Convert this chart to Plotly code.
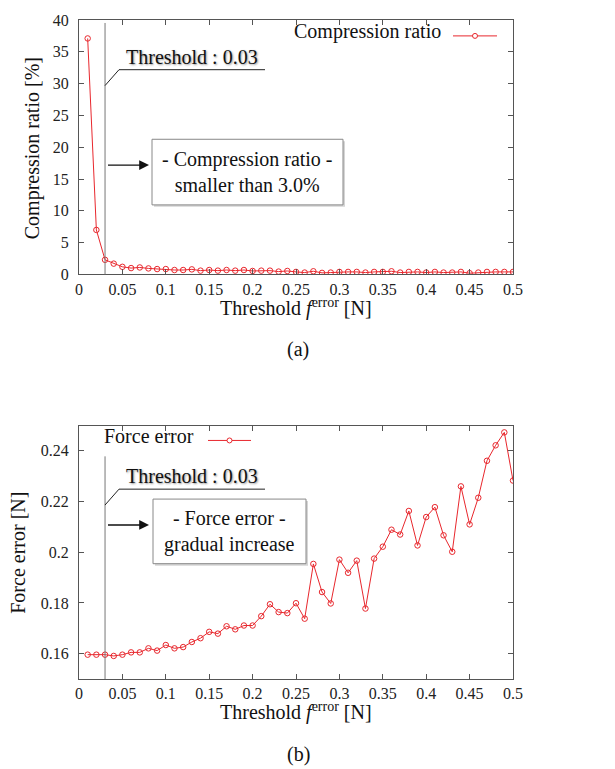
import plotly.graph_objects as go
from plotly.subplots import make_subplots

threshold = [round(0.01 * i, 2) for i in range(1, 51)]
compression_ratio = [37.1, 7.0, 2.3, 1.7, 1.2, 1.0, 1.1, 0.95, 0.85, 0.85,
                     0.7, 0.7, 0.8, 0.6, 0.7, 0.6, 0.7, 0.6, 0.7, 0.55,
                     0.6, 0.6, 0.45, 0.55, 0.4, 0.3, 0.5, 0.25, 0.3, 0.4,
                     0.4, 0.4, 0.3, 0.4, 0.4, 0.5, 0.3, 0.4, 0.4, 0.3,
                     0.4, 0.3, 0.3, 0.4, 0.2, 0.3, 0.4, 0.4, 0.4, 0.4]
force_error = [0.1596, 0.1596, 0.1596, 0.1591, 0.1596, 0.1605, 0.1605, 0.1621, 0.1612, 0.1634,
               0.1621, 0.1626, 0.1646, 0.1661, 0.1686, 0.1679, 0.1708, 0.1696, 0.1711, 0.1711,
               0.1748, 0.1795, 0.1764, 0.1760, 0.1799, 0.1738, 0.1954, 0.1843, 0.1798, 0.1971,
               0.1919, 0.1967, 0.1778, 0.1975, 0.2022, 0.2089, 0.2070, 0.2163, 0.2027, 0.2139,
               0.2178, 0.2067, 0.2002, 0.2260, 0.2110, 0.2215, 0.2361, 0.2422, 0.2473, 0.2283]
THRESH = 0.03
x_ticks = [0, 0.05, 0.1, 0.15, 0.2, 0.25, 0.3, 0.35, 0.4, 0.45, 0.5]
x_ticklabels = ["0", "0.05", "0.1", "0.15", "0.2", "0.25", "0.3", "0.35", "0.4", "0.45", "0.5"]
y1_ticks = [0, 5, 10, 15, 20, 25, 30, 35, 40]
y2_ticks = [0.16, 0.18, 0.2, 0.22, 0.24]
y2_ticklabels = ["0.16", "0.18", "0.2", "0.22", "0.24"]

W, H = 615, 769
PL, PR, PT, PB = 79, 513, 16, 679   # plot-area edges in pixels
L, T, R, B = PL, PT, W - PR, H - PB
PW, PH = W - L - R, H - T - B

def px(x):
    return (x - L) / PW

def py(y):
    return (PB - y) / PH

FONT = "Liberation Serif, Times New Roman, serif"
RED = "#e8272d"
AX = "#555555"

fig = make_subplots(rows=2, cols=1, vertical_spacing=0.05)
fig.update_layout(
    yaxis=dict(domain=[py(272), 1.0]),
    yaxis2=dict(domain=[0.0, py(424)]),
)

mk = dict(symbol="circle-open", size=5.5, color=RED, line=dict(width=1, color=RED))
fig.add_trace(go.Scatter(x=threshold, y=compression_ratio, mode="lines+markers",
                         line=dict(color=RED, width=1), marker=mk, showlegend=False), row=1, col=1)
fig.add_trace(go.Scatter(x=threshold, y=force_error, mode="lines+markers",
                         line=dict(color=RED, width=1), marker=mk, showlegend=False), row=2, col=1)

axcommon = dict(showline=True, linecolor=AX, linewidth=1, mirror="ticks", ticks="inside",
                ticklen=5, tickcolor=AX, showgrid=False, zeroline=False,
                ticklabeloverflow="allow",
                tickfont=dict(family=FONT, size=16, color="#222"))
fig.update_xaxes(range=[0, 0.5], tickvals=x_ticks, ticktext=x_ticklabels, **axcommon)
fig.update_yaxes(range=[0, 40], tickvals=y1_ticks, row=1, col=1, ticklabelstandoff=6, **axcommon)
fig.update_yaxes(range=[0.15, 0.25], tickvals=y2_ticks, ticktext=y2_ticklabels, row=2, col=1,
                 ticklabelstandoff=6, **axcommon)

shapes = []
anns = []
tf = dict(family=FONT, size=20, color="#111")

def note(x, y, text, xanchor="center", font=tf, **kw):
    anns.append(dict(xref="paper", yref="paper", x=px(x), y=py(y), text=text, showarrow=False,
                     xanchor=xanchor, yanchor="middle", font=font, **kw))

# threshold lines
shapes.append(dict(type="line", xref="x", yref="paper", x0=THRESH, x1=THRESH,
                   y0=py(272), y1=py(19), line=dict(color="#777", width=1)))
shapes.append(dict(type="line", xref="x2", yref="paper", x0=THRESH, x1=THRESH,
                   y0=py(679), y1=py(455), line=dict(color="#777", width=1)))

def callout(ytext, yline, ydiag, box, ybox_arrow, lines):
    shapes.append(dict(type="path", xref="paper", yref="paper",
                       path=f"M {px(105)},{py(ydiag)} L {px(119)},{py(yline)} L {px(265)},{py(yline)}",
                       line=dict(color="#222", width=1)))
    note(124, ytext, "Threshold : 0.03", xanchor="left",
         font=dict(family=FONT, size=20, color="#111", shadow="1px 1px 2px #999"))
    x0, y0, x1, y1 = box
    shapes.append(dict(type="rect", xref="paper", yref="paper", x0=px(x0 + 2), x1=px(x1 + 2),
                       y0=py(y1 + 2), y1=py(y0 + 2), line=dict(width=0), fillcolor="#d5d5d5", layer="below"))
    shapes.append(dict(type="rect", xref="paper", yref="paper", x0=px(x0), x1=px(x1),
                       y0=py(y1), y1=py(y0), line=dict(color="#888", width=1), fillcolor="white", layer="below"))
    note((x0 + x1) / 2, (y0 + y1) / 2, "<br>".join(lines), align="center")
    anns.append(dict(xref="paper", yref="paper", x=px(149), y=py(ybox_arrow), text=" ", showarrow=True,
                     xanchor="center", yanchor="middle",
                     ax=-44, ay=0, arrowhead=2, arrowsize=1.4, arrowwidth=1.4, arrowcolor="#111"))

callout(53, 66, 82, (152, 136, 343, 202), 162, ["- Compression ratio -", "smaller than 3.0%"])
callout(475, 488, 504, (153, 498, 306, 563), 524, ["- Force error -", "gradual increase"])

def legend(text, xt_right, yt, xl0, xl1, yl):
    note(xt_right, yt, text, xanchor="right")
    shapes.append(dict(type="line", xref="paper", yref="paper", x0=px(xl0), x1=px(xl1),
                       y0=py(yl), y1=py(yl), line=dict(color=RED, width=1)))
    xc = (xl0 + xl1) / 2
    shapes.append(dict(type="circle", xref="paper", yref="paper", x0=px(xc - 2.5), x1=px(xc + 2.5),
                       y0=py(yl + 2.5), y1=py(yl - 2.5), line=dict(color=RED, width=1), fillcolor="white"))

legend("Compression ratio", 443, 28, 453, 497, 32)
legend("Force error", 196, 435, 208, 251, 439)

xtitle = "Threshold <i>f</i><sup>error</sup> [N]"
note(296, 305, xtitle)
note(296, 712, xtitle)
note(32, 145, "Compression ratio [%]", textangle=-90)
note(18, 552, "Force error [N]", textangle=-90)
note(298, 348, "(a)")
note(298, 755, "(b)")

fig.update_layout(width=W, height=H, margin=dict(l=L, r=R, t=T, b=B),
                  plot_bgcolor="white", paper_bgcolor="white",
                  font=dict(family=FONT), shapes=shapes, annotations=anns, showlegend=False)

fig.write_html(
    "out.html",
    config={"displayModeBar": False, "staticPlot": True},
    post_script=(
        "document.documentElement.style.overflow='hidden';"
        "document.body.style.margin='0';document.body.style.overflow='hidden';"
        "var d=document.getElementById('{plot_id}');"
        "d.style.position='fixed';d.style.top='0px';d.style.left='0px';"
    ),
)
